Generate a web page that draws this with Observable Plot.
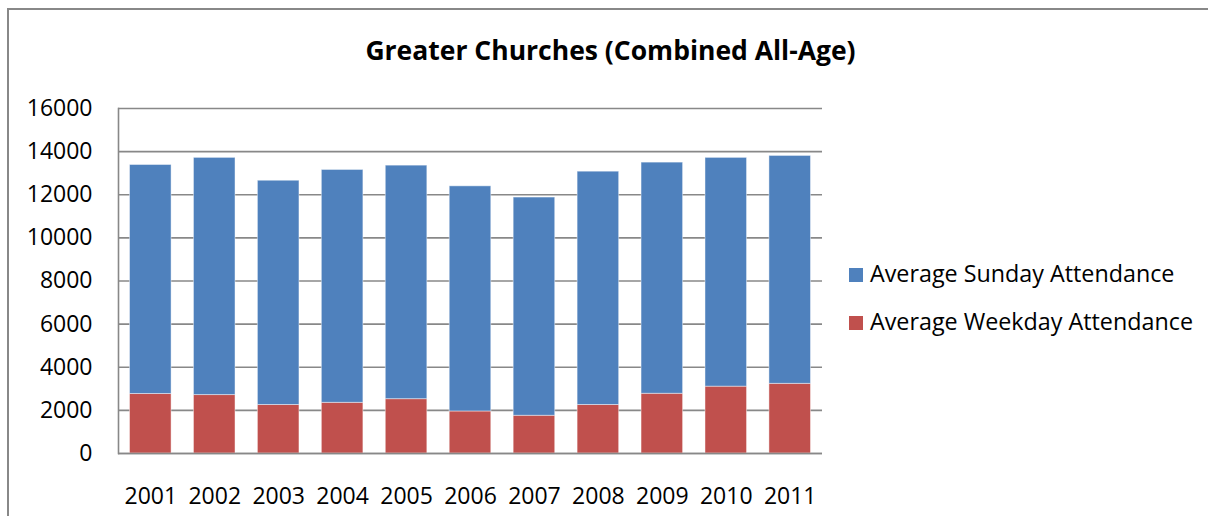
<!DOCTYPE html>
<html><head><meta charset="utf-8">
<script src="https://cdn.jsdelivr.net/npm/d3@7"></script>
<script src="https://cdn.jsdelivr.net/npm/@observablehq/plot@0.6"></script>
<style>
body{margin:0;background:#fff;}
#wrap{position:relative;width:1208px;height:516px;overflow:hidden;font-family:"Open Sans",sans-serif;color:#000;}
#frame{position:absolute;left:7px;top:8px;width:1300px;height:600px;border:2px solid #888;box-sizing:border-box;}
#title{position:absolute;left:0;width:1221px;top:31px;text-align:center;font-weight:bold;font-size:26.5px;line-height:38px;}
#chart{position:absolute;left:0;top:0;}
.leg{position:absolute;left:849px;font-size:23.3px;line-height:30px;white-space:nowrap;}
.leg span.sw{display:inline-block;width:14px;height:14px;margin-right:7px;vertical-align:0px;}
</style></head>
<body>
<div id="wrap">
  <div id="frame"></div>
  <div id="title">Greater Churches (Combined All-Age)</div>
  <div id="chart"></div>
  <div class="leg" id="leg0" style="top:258px"></div>
  <div class="leg" id="leg1" style="top:306px"></div>
</div>
<script>
const years = ["2001","2002","2003","2004","2005","2006","2007","2008","2009","2010","2011"];
const weekday = [2760, 2710, 2250, 2350, 2520, 1950, 1750, 2250, 2770, 3100, 3230];
const sunday = [10620, 11000, 10400, 10800, 10830, 10440, 10120, 10820, 10720, 10610, 10570];
const seriesNames = ["Average Sunday Attendance", "Average Weekday Attendance"];
const seriesColors = ["#4F81BD", "#C0504D"];
const yTicks = [0, 2000, 4000, 6000, 8000, 10000, 12000, 14000, 16000];

const rows = [];
years.forEach((y, i) => rows.push({year: y, series: seriesNames[1], value: weekday[i]}));
years.forEach((y, i) => rows.push({year: y, series: seriesNames[0], value: sunday[i]}));

const plot = Plot.plot({
  width: 1208,
  height: 516,
  marginLeft: 118,
  marginRight: 386,
  marginTop: 108,
  marginBottom: 63,
  style: {fontFamily: "Open Sans, sans-serif", fontSize: "23px", color: "#000", background: "transparent", overflow: "visible"},
  x: {domain: years, paddingInner: 0.35, paddingOuter: 0.18, round: false, label: null, tickSize: 0},
  y: {domain: [0, 16000], label: null},
  color: {domain: seriesNames, range: seriesColors},
  marks: [
    Plot.ruleY(yTicks, {stroke: "#888", strokeWidth: 1.6}),
    Plot.axisY({ticks: yTicks, tickFormat: d => String(d), tickSize: 0, tickPadding: 26, label: null, fill: "#000", fontSize: 23}),
    Plot.axisX({tickSize: 0, tickPadding: 34, label: null, fill: "#000", fontSize: 23}),
    Plot.barY(rows, Plot.stackY({order: null}, {x: "year", y: "value", fill: "series", stroke: "#ffffff", strokeOpacity: 0.45, strokeWidth: 1})),
    Plot.frame({anchor: "left", stroke: "#888", strokeWidth: 1.6}),
    Plot.ruleY([0], {stroke: "#888", strokeWidth: 1.6})
  ]
});
document.getElementById("chart").appendChild(plot);

seriesNames.forEach((n, i) => {
  const el = document.getElementById("leg" + i);
  const sw = document.createElement("span");
  sw.className = "sw";
  sw.style.background = seriesColors[i];
  el.appendChild(sw);
  el.appendChild(document.createTextNode(n));
});
</script>
</body></html>
